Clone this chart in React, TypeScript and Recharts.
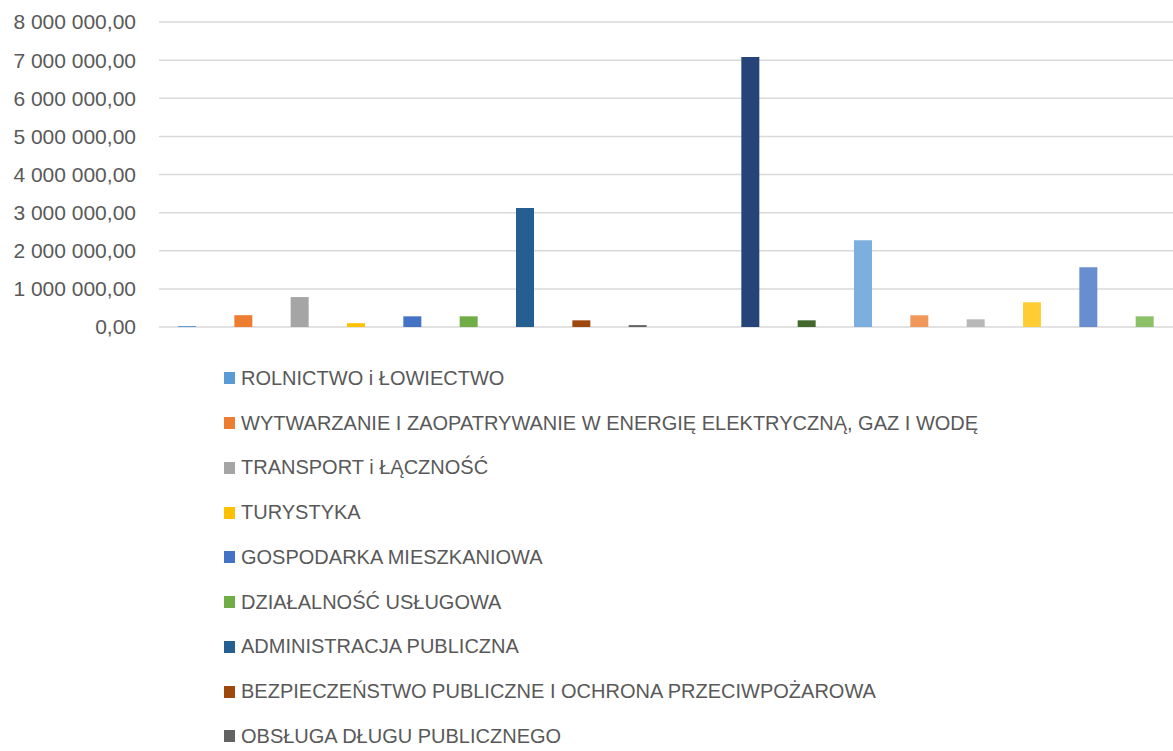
import { BarChart, Bar, XAxis, YAxis, CartesianGrid, Legend, Cell } from 'recharts'

const categories = [
  'ROLNICTWO i ŁOWIECTWO',
  'WYTWARZANIE I ZAOPATRYWANIE W ENERGIĘ ELEKTRYCZNĄ, GAZ I WODĘ',
  'TRANSPORT i ŁĄCZNOŚĆ',
  'TURYSTYKA',
  'GOSPODARKA MIESZKANIOWA',
  'DZIAŁALNOŚĆ USŁUGOWA',
  'ADMINISTRACJA PUBLICZNA',
  'BEZPIECZEŃSTWO PUBLICZNE I OCHRONA PRZECIWPOŻAROWA',
  'OBSŁUGA DŁUGU PUBLICZNEGO',
  'RÓŻNE ROZLICZENIA',
  'OŚWIATA I WYCHOWANIE',
  'OCHRONA ZDROWIA',
  'POMOC SPOŁECZNA',
  'POZOSTAŁE ZADANIA W ZAKRESIE POLITYKI SPOŁECZNEJ',
  'EDUKACYJNA OPIEKA WYCHOWAWCZA',
  'RODZINA',
  'GOSPODARKA KOMUNALNA I OCHRONA ŚRODOWISKA',
  'KULTURA I OCHRONA DZIEDZICTWA NARODOWEGO',
]

const values = [
  25000, 310000, 785000, 100000, 280000, 280000, 3120000, 175000, 50000,
  0, 7080000, 175000, 2275000, 307000, 202000, 648000, 1567000, 280000,
]

const colors = [
  '#5B9BD5', '#ED7D31', '#A5A5A5', '#FFC000', '#4472C4', '#70AD47',
  '#255E91', '#9E480E', '#636363', '#997300', '#264478', '#43682B',
  '#7CAFDD', '#F1975A', '#B7B7B7', '#FFCD33', '#698ED0', '#8CC168',
]

const yTicks = [0, 1000000, 2000000, 3000000, 4000000, 5000000, 6000000, 7000000, 8000000]

const data = categories.map((name, i) => ({ name, value: values[i] }))

// the picture is cut off below the 9th legend entry
const visibleLegendItems = 9

const formatPl = (v: number) =>
  Math.round(v).toString().replace(/\B(?=(\d{3})+(?!\d))/g, ' ') + ',00'

function LegendList() {
  return (
    <div>
      {categories.slice(0, visibleLegendItems).map((name, i) => (
        <div
          key={name}
          style={{ height: 44.75, display: 'flex', alignItems: 'center', whiteSpace: 'nowrap' }}
        >
          <span style={{ width: 11, height: 12, background: colors[i], marginRight: 6, flex: 'none' }} />
          <span
            style={{
              fontFamily: '"Liberation Sans", Arial, sans-serif',
              fontSize: 20,
              color: '#595959',
            }}
          >
            {name}
          </span>
        </div>
      ))}
    </div>
  )
}

export default function App() {
  return (
    <div style={{ position: 'absolute', left: 0, top: 0, width: 1173, height: 751, overflow: 'hidden', background: '#fff' }}>
      <BarChart
        width={1173}
        height={751}
        data={data}
        margin={{ top: 22, right: 0, left: 0, bottom: 424 }}
      >
        <CartesianGrid vertical={false} stroke="#d9d9d9" strokeWidth={1.5} />
        <XAxis dataKey="name" hide />
        <YAxis
          width={159}
          domain={[0, 8000000]}
          ticks={yTicks}
          tickFormatter={formatPl}
          axisLine={false}
          tickLine={false}
          tickSize={0}
          tickMargin={23}
          interval={0}
          tick={{ fill: '#595959', fontSize: 21, fontFamily: '"Liberation Sans", Arial, sans-serif' }}
        />
        <Bar dataKey="value" barSize={18} isAnimationActive={false}>
          {data.map((d, i) => (
            <Cell key={d.name} fill={colors[i]} />
          ))}
        </Bar>
        <Legend
          layout="vertical"
          align="center"
          verticalAlign="middle"
          content={() => <LegendList />}
          wrapperStyle={{ top: 356, left: 224, width: 940 }}
        />
      </BarChart>
    </div>
  )
}
